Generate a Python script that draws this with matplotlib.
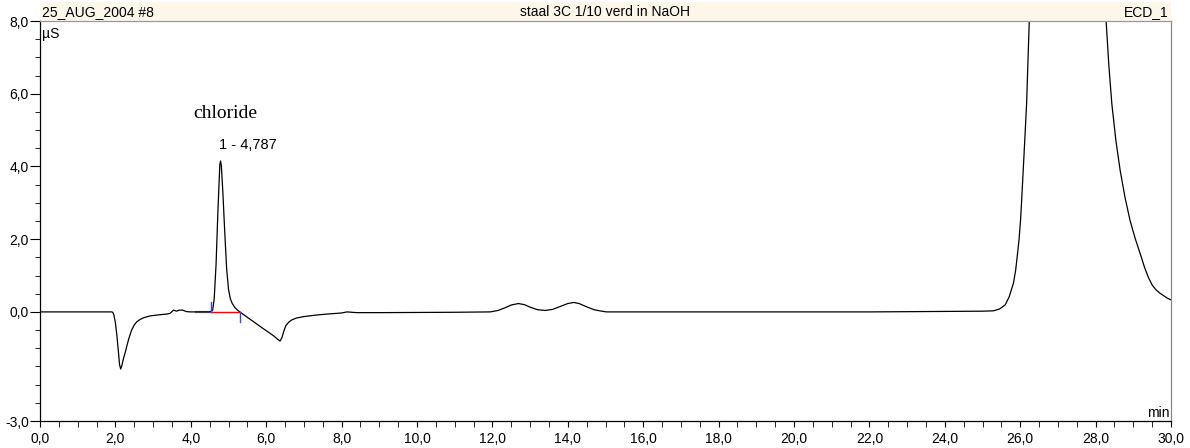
import numpy as np
import matplotlib
matplotlib.use("Agg")
import matplotlib.pyplot as plt
from matplotlib.patches import Rectangle

plt.rcParams["font.family"] = ["Liberation Sans", "DejaVu Sans"]

# detector trace (time in min, signal in uS)
trace_time = [0.00, 1.90, 1.93, 1.96, 2.00, 2.04, 2.08, 2.11, 2.14, 2.17, 2.21,
              2.26, 2.30, 2.36, 2.43, 2.50, 2.56, 2.65, 2.75, 2.92, 3.15, 3.36,
              3.45, 3.54, 3.62, 3.70, 3.78, 3.88, 3.98, 4.20, 4.50, 4.55, 4.58,
              4.62, 4.67, 4.72, 4.77, 4.79, 4.81, 4.85, 4.90, 4.95, 5.00, 5.05,
              5.10, 5.17, 5.24, 5.30, 5.84, 6.20, 6.30, 6.37, 6.42, 6.47, 6.52,
              6.60, 6.68, 6.80, 6.99, 7.30, 7.60, 8.00, 8.14, 8.40, 9.00, 11.00,
              11.94, 12.15, 12.35, 12.50, 12.69, 12.85, 13.00, 13.20, 13.40,
              13.60, 13.80, 14.00, 14.16, 14.30, 14.50, 14.70, 14.90, 15.03,
              18.00, 22.00, 25.00, 25.29, 25.45, 25.60, 25.71, 25.82, 25.88,
              25.93, 25.97, 26.01, 26.04, 26.08, 26.12, 26.17, 26.20, 26.24,
              27.25, 28.28, 28.35, 28.43, 28.54, 28.65, 28.78, 28.91, 29.05,
              29.18, 29.30, 29.40, 29.50, 29.60, 29.70, 29.80, 29.90, 30.00]
trace_signal = [0.00, 0.00, -0.01, -0.08, -0.30, -0.65, -1.10, -1.45, -1.57, -1.48, -1.30,
                -1.12, -0.95, -0.72, -0.50, -0.36, -0.28, -0.21, -0.16, -0.11, -0.08, -0.06,
                -0.04, 0.05, 0.02, 0.05, 0.05, 0.01, 0.00, 0.00, 0.00, 0.02, 0.05,
                0.35, 1.30, 2.80, 4.05, 4.15, 4.02, 3.30, 2.20, 1.20, 0.62, 0.36,
                0.23, 0.12, 0.05, 0.00, -0.40, -0.66, -0.75, -0.80, -0.70, -0.52, -0.38,
                -0.28, -0.22, -0.17, -0.13, -0.09, -0.06, -0.03, 0.00, -0.02, -0.02, -0.01,
                0.00, 0.04, 0.12, 0.19, 0.23, 0.20, 0.13, 0.06, 0.04,
                0.07, 0.15, 0.23, 0.26, 0.23, 0.14, 0.06, 0.02, 0.00,
                0.00, 0.00, 0.02, 0.03, 0.08, 0.19, 0.42, 0.79, 1.15,
                1.61, 2.00, 2.53, 3.10, 3.90, 4.70, 5.73, 6.70, 7.98,
                25.0, 7.98, 6.80, 5.73, 4.70, 3.90, 3.15, 2.53, 2.02,
                1.61, 1.22, 0.95, 0.74, 0.61, 0.52, 0.45, 0.38, 0.33]

# integration of peak 1
peak_name = "chloride"
peak_label = "1 - 4,787"
peak_time = 4.79
peak_height = 4.15
int_start, int_end = 4.53, 5.30

x_ticks = [0, 2, 4, 6, 8, 10, 12, 14, 16, 18, 20, 22, 24, 26, 28, 30]
x_tick_labels = ["0,0", "2,0", "4,0", "6,0", "8,0", "10,0", "12,0", "14,0", "16,0",
                 "18,0", "20,0", "22,0", "24,0", "26,0", "28,0", "30,0"]
y_ticks = [-3, 0, 2, 4, 6, 8]
y_tick_labels = ["-3,0", "0,0", "2,0", "4,0", "6,0", "8,0"]

header_left = "25_AUG_2004 #8"
header_mid = "staal 3C 1/10 verd in NaOH"
header_right = "ECD_1"

fig = plt.figure(figsize=(11.9, 4.48), dpi=100)
L, R, B, T = 40 / 1190, 1171 / 1190, 1 - 421 / 448, 1 - 21 / 448
ax = fig.add_axes([L, B, R - L, T - B])

# header strip above the plot
fig.add_artist(Rectangle((L, T), R - L, 0.995 - T, transform=fig.transFigure,
                         facecolor="#fdf7e9", edgecolor="none", zorder=0))
hy = T + 0.004
fig.text(L + 0.002, hy, header_left, fontsize=10, va="bottom", ha="left")
fig.text((L + R) / 2, hy, header_mid, fontsize=10, va="bottom", ha="center")
fig.text(R - 0.002, hy, header_right, fontsize=10, va="bottom", ha="right")

# grey baseline before the peak, then trace and integration marks
ax.plot([4.15, int_start], [0, 0], color="#888888", lw=1.6, zorder=1)
ax.plot(trace_time, trace_signal, color="black", lw=0.9, zorder=2)
ax.plot([int_start, int_end], [0, 0], color="red", lw=1.0, zorder=3)
ax.plot([int_start, int_start], [0, 0.27], color="#3344ff", lw=1.0, zorder=3)
ax.plot([int_end, int_end], [0, -0.27], color="#3344ff", lw=1.0, zorder=3)

ax.text(peak_time - 0.05, peak_height + 0.25, peak_label, fontsize=10.5, ha="left", va="bottom")
ax.text(4.91, 5.33, peak_name, fontsize=14, family="Liberation Serif", ha="center", va="baseline")

ax.set_xlim(0, 30)
ax.set_ylim(-3, 8)
ax.set_xticks(x_ticks)
ax.set_xticklabels(x_tick_labels, fontsize=10)
ax.set_xticks(np.arange(0, 30.01, 0.5), minor=True)
ax.set_yticks(y_ticks)
ax.set_yticklabels(y_tick_labels, fontsize=10)
ax.set_yticks(np.arange(-3, 8.01, 0.5), minor=True)
ax.tick_params(axis="x", which="both", direction="out", length=4, pad=4)
ax.tick_params(axis="y", which="major", direction="out", length=7, pad=1)
ax.tick_params(axis="y", which="minor", direction="out", length=3.5)

ax.spines["top"].set_color("#999999")
ax.spines["right"].set_color("#888888")
for s in ax.spines.values():
    s.set_linewidth(0.9)

ax.text(0.002, 0.985, "µS", transform=ax.transAxes, fontsize=10, ha="left", va="top")
ax.text(0.999, 0.003, "min", transform=ax.transAxes, fontsize=10, ha="right", va="bottom")

fig.savefig("out.png", dpi=100)
